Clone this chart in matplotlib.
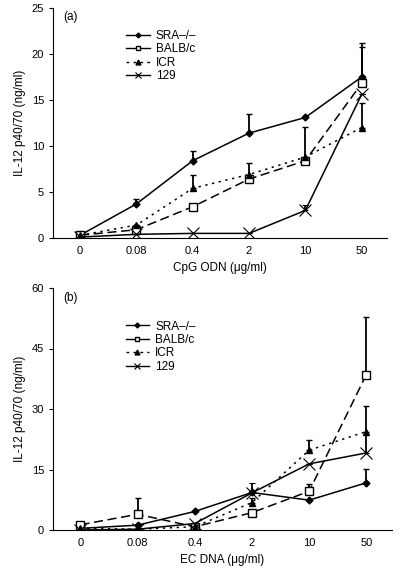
import numpy as np
import matplotlib.pyplot as plt
from matplotlib.lines import Line2D

plt.rcParams['font.family'] = ['Liberation Sans', 'DejaVu Sans']

doses = ['0', '0.08', '0.4', '2', '10', '50']
strains = ['SRA\u2013/\u2013', 'BALB/c', 'ICR', '129']

# panel (a) CpG ODN
cpg_sra = [0.3, 3.7, 8.4, 11.4, 13.1, 17.5]
cpg_sra_err = [0, 0.5, 1.1, 2.1, 0, 3.7]
cpg_balb = [0.3, 0.9, 3.4, 6.4, 8.4, 16.8]
cpg_balb_err = [0, 0, 0, 0, 0, 4.0]
cpg_icr = [0.3, 1.4, 5.4, 6.9, 8.8, 12.0]
cpg_icr_err = [0, 0, 1.4, 1.3, 3.3, 2.7]
cpg_129 = [0.1, 0.4, 0.5, 0.5, 3.0, 15.6]
cpg_129_err = [0, 0, 0, 0, 0.6, 0]

# panel (b) EC DNA
ec_sra = [0.4, 1.2, 4.6, 9.3, 7.4, 11.7]
ec_sra_err = [0, 0, 0, 0, 0, 3.5]
ec_balb = [1.3, 3.9, 0.8, 4.3, 9.6, 38.5]
ec_balb_err = [0, 4.0, 0, 0, 1.8, 14.4]
ec_icr = [0.4, 0.2, 0.8, 6.8, 19.8, 24.4]
ec_icr_err = [0, 0, 0, 1.2, 2.4, 6.3]
ec_129 = [0.0, 0.2, 1.6, 9.2, 16.4, 19.1]
ec_129_err = [0, 0, 0, 2.5, 0, 4.5]

styles = [
    dict(ls='-', marker='D', ms=3.5, mfc='black'),
    dict(ls=(0, (6, 3)), marker='s', ms=6, mfc='white'),
    dict(ls=(0, (1.5, 3)), marker='^', ms=5, mfc='black'),
    dict(ls='-', marker='x', ms=8, mfc='black', mew=0.8),
]
# small markers for the legend keys
leg_styles = [
    dict(ls='-', marker='D', ms=2.5, mfc='black'),
    dict(ls='-', marker='s', ms=3.5, mfc='white'),
    dict(ls=(0, (2, 3)), marker='^', ms=3.5, mfc='black'),
    dict(ls='-', marker='x', ms=4, mfc='black', mew=0.8),
]

fig = plt.figure(figsize=(4.01, 5.73), dpi=100)
ax1 = fig.add_axes([53 / 401, 1 - 238 / 573, 334 / 401, 230 / 573])
ax2 = fig.add_axes([53 / 401, 1 - 530 / 573, 339 / 401, 242 / 573])

panels = [
    (ax1, [cpg_sra, cpg_balb, cpg_icr, cpg_129],
     [cpg_sra_err, cpg_balb_err, cpg_icr_err, cpg_129_err],
     25, [0, 5, 10, 15, 20, 25], 'CpG ODN (\u03bcg/ml)', '(a)', (0.205, 0.925)),
    (ax2, [ec_sra, ec_balb, ec_icr, ec_129],
     [ec_sra_err, ec_balb_err, ec_icr_err, ec_129_err],
     60, [0, 15, 30, 45, 60], 'EC DNA (\u03bcg/ml)', '(b)', (0.2, 0.885)),
]

x = np.arange(len(doses))
for ax, vals, errs, ymax, yt, xl, tag, anchor in panels:
    for name, v, e, st in zip(strains, vals, errs, styles):
        ax.errorbar(x, v, yerr=[np.zeros(len(e)), e], color='black', lw=1.1,
                    elinewidth=1.3, capsize=2, capthick=1,
                    mec='black', **st)
    ax.set_xlim(-0.48, 5.45)
    ax.set_ylim(0, ymax)
    ax.set_yticks(yt)
    ax.set_xticks(x)
    ax.set_xticklabels(doses)
    ax.spines['top'].set_visible(False)
    ax.spines['right'].set_visible(False)
    ax.tick_params(labelsize=8, length=3, width=0.8)
    ax.tick_params(axis='x', length=0, pad=6)
    ax.set_xlabel(xl, fontsize=8.5)
    ax.set_ylabel('IL-12 p40/70 (ng/ml)', fontsize=8.5)
    ax.text(0.03, 0.985, tag, transform=ax.transAxes, fontsize=8.5, va='top')
    handles = [Line2D([], [], color='black', lw=1, mec='black', **st)
               for st in leg_styles]
    ax.legend(handles, strains, loc='upper left', bbox_to_anchor=anchor,
              frameon=False, fontsize=8.5, handlelength=2.0,
              handletextpad=0.5, labelspacing=0.12, borderaxespad=0)

fig.savefig('out.png', dpi=100)
